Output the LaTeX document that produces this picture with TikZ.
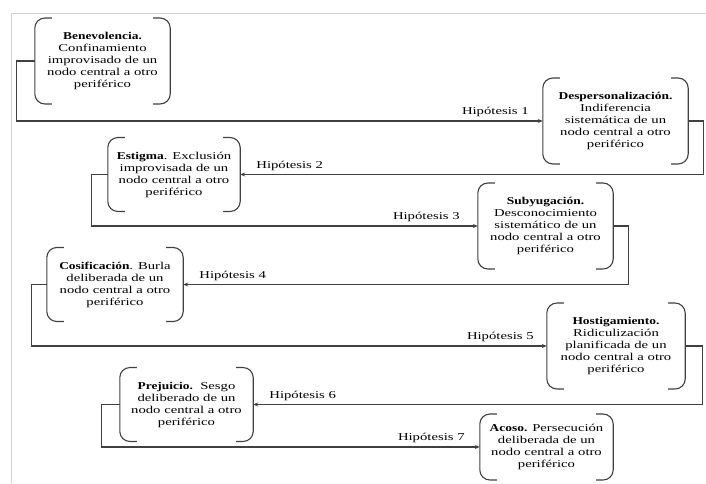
\documentclass[tikz,border=0pt]{standalone}
\usepackage{fontspec}
\setmainfont{Liberation Serif}[FakeStretch=1.4]
\newfontfamily\titlefont{Liberation Serif}[FakeStretch=1.28]
\newcommand{\etapa}[1]{{\titlefont\bfseries #1}}
\usetikzlibrary{positioning, arrows.meta}

\begin{document}
\begin{tikzpicture}[
    x=1pt, y=-1pt,
    font=\fontsize{10.5}{12}\selectfont,
    etapabox/.style={align=center, inner xsep=6pt, inner ysep=14pt, minimum width=135pt},
    bracket/.style={draw=black!75, line width=1.1pt, rounded corners=10pt},
    link/.style={-{Stealth[length=5pt,width=4pt]}, draw=black!75, line width=1.1pt},
    hyp/.style={inner sep=2pt}
]
    \useasboundingbox (0,0) rectangle (706,483);
    % Frame
    \draw[black!18, line width=0.8pt] (11.5,483) -- (11.5,13) -- (706,13);
    % Stages
    \node[etapabox] (ben) at (102.5,61) {\etapa{Benevolencia.}\\Confinamiento\\improvisado de un\\nodo central a otro\\periférico};
    \node[etapabox, minimum width=145pt] (desp) at (615.5,121) {\etapa{Despersonalización.}\\Indiferencia\\sistemática de un\\nodo central a otro\\periférico};
    \node[etapabox, minimum width=132pt] (est) at (174,174.5) {\etapa{Estigma}. Exclusión\\improvisada de un\\nodo central a otro\\periférico};
    \node[etapabox] (sub) at (545.5,226) {\etapa{Subyugación.}\\Desconocimiento\\sistemático de un\\nodo central a otro\\periférico};
    \node[etapabox, minimum width=136pt] (cos) at (115,284.5) {\etapa{Cosificación}. Burla\\deliberada de un\\nodo central a otro\\periférico};
    \node[etapabox, minimum width=138pt] (host) at (616,346) {\etapa{Hostigamiento.}\\Ridiculización\\planificada de un\\nodo central a otro\\periférico};
    \node[etapabox, minimum width=133pt] (pre) at (186.5,404.5) {\etapa{Prejuicio.}\ \ Sesgo\\deliberado de un\\nodo central a otro\\periférico};
    \node[etapabox, minimum width=133pt, inner ysep=10pt] (aco) at (546.5,447) {\etapa{Acoso.} Persecución\\deliberada de un\\nodo central a otro\\periférico};
    % Brackets
    \foreach \n in {ben,desp,est,sub,cos,host,pre,aco} {
        \draw[bracket] ([xshift=17pt]\n.north west) -- (\n.north west) -- (\n.south west) -- ([xshift=17pt]\n.south west);
        \draw[bracket] ([xshift=-17pt]\n.north east) -- (\n.north east) -- (\n.south east) -- ([xshift=-17pt]\n.south east);
    }
    % Arrows
    \draw[link] (ben.west) -- ++(-18,0) |- (desp.west);
    \draw[link] (desp.east) -- ++(15,0) |- (est.east);
    \draw[link] (est.west) -- ++(-16,0) |- (sub.west);
    \draw[link] (sub.east) -- ++(15,0) |- (cos.east);
    \draw[link] (cos.west) -- ++(-15,0) |- (host.west);
    \draw[link] (host.east) -- ++(17,0) |- (pre.east);
    \draw[link] (pre.west) -- ++(-18,0) |- (aco.west);
    % Hypotheses
    \node[hyp, above left=2pt and 12pt of desp.west] (h1) {Hipótesis 1};
    \node[hyp, above right=2pt and 14pt of est.east] (h2) {Hipótesis 2};
    \node[hyp, above left=2pt and 16pt of sub.west] (h3) {Hipótesis 3};
    \node[hyp, above right=2pt and 14pt of cos.east] (h4) {Hipótesis 4};
    \node[hyp, above left=2pt and 11pt of host.west] (h5) {Hipótesis 5};
    \node[hyp, above right=2pt and 14pt of pre.east] (h6) {Hipótesis 6};
    \node[hyp, above left=2pt and 13pt of aco.west] (h7) {Hipótesis 7};
\end{tikzpicture}
\end{document}
